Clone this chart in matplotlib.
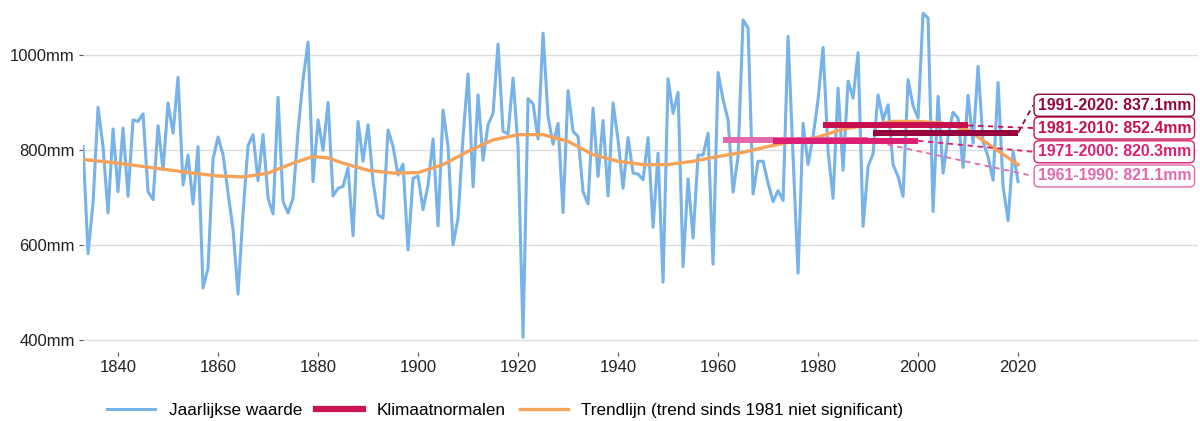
import numpy as np
import matplotlib
matplotlib.use("Agg")
from matplotlib import pyplot as plt
from matplotlib.lines import Line2D

plt.rcParams['font.family'] = ['Liberation Sans', 'DejaVu Sans']

# jaarlijkse neerslag (mm), 1833-2020
years = np.arange(1833, 2021)
precip = [
    808, 582, 689, 891, 808, 668, 845,                     # 1833-1839
    713, 847, 703, 864, 861, 877, 713, 696, 852, 759,      # 1840s
    900, 836, 954, 727, 790, 687, 808, 510, 552, 782,      # 1850s
    828, 791, 710, 633, 497, 668, 810, 833, 736, 833,      # 1860s
    699, 666, 912, 692, 668, 699, 841, 949, 1028, 734,     # 1870s
    864, 800, 901, 704, 720, 724, 763, 620, 861, 777,      # 1880s
    854, 734, 664, 657, 843, 808, 748, 771, 590, 741,      # 1890s
    746, 675, 727, 824, 641, 885, 808, 601, 657, 829,      # 1900s
    961, 723, 917, 779, 854, 878, 1024, 840, 835, 952,     # 1910s
    808, 406, 909, 898, 824, 1047, 871, 813, 857, 669,     # 1920s
    926, 840, 829, 713, 687, 889, 745, 863, 704, 900,      # 1930s
    822, 720, 827, 752, 750, 738, 827, 638, 794, 522,      # 1940s
    951, 878, 922, 555, 740, 615, 790, 790, 836, 560,      # 1950s
    964, 907, 864, 712, 787, 1075, 1058, 708, 777, 777,    # 1960s
    731, 692, 715, 694, 1040, 787, 541, 857, 770, 829,     # 1970s
    907, 1017, 798, 699, 931, 758, 946, 910, 1006, 640,    # 1980s
    766, 793, 917, 864, 896, 770, 745, 703, 949, 894,      # 1990s
    868, 1089, 1079, 671, 914, 752, 829, 880, 868, 764,    # 2000s
    916, 815, 977, 817, 787, 737, 943, 724, 652, 798,      # 2010s
    734,                                                   # 2020
]

trend_years = [1833, 1840, 1845, 1850, 1855, 1860, 1865, 1870, 1875, 1879,
               1882, 1885, 1890, 1895, 1900, 1905, 1910, 1915, 1920, 1925,
               1930, 1935, 1940, 1945, 1950, 1955, 1960, 1965, 1970, 1975,
               1980, 1985, 1990, 1995, 2000, 2005, 2010, 2015, 2020]
trend_vals = [781, 773, 766, 759, 752, 746, 744, 752, 773, 787,
              784, 773, 758, 752, 753, 770, 798, 822, 833, 833,
              819, 791, 777, 770, 770, 777, 787, 796, 808, 819,
              828, 845, 853, 861, 861, 857, 843, 806, 770]

# klimaatnormalen
norm_periods = [(1961, 1990), (1971, 2000), (1981, 2010), (1991, 2020)]
norm_values = [821.1, 820.3, 852.4, 837.1]
norm_colors = ['#e368ad', '#dc1f72', '#c8104e', '#96053e']
norm_label_y = [746, 797, 847, 895]

blue = '#77b2e8'
orange = '#f5a25b'

fig = plt.figure(figsize=(12, 4.21), dpi=100)
ax = fig.add_axes([0.0692, 0.1639, 0.9292, 0.8171])

ax.plot(years, precip, color=blue, lw=2.2, zorder=2)
ax.plot(trend_years, trend_vals, color=orange, lw=2.4, zorder=3)

for (start, end), val, col, ly in zip(norm_periods, norm_values, norm_colors, norm_label_y):
    ax.plot([start, end], [val, val], color=col, lw=4.3, solid_capstyle='butt', zorder=4)
    ax.plot([end, 2023], [val, ly], color=col, lw=1.3, ls=(0, (3, 2.5)), zorder=4,
            clip_on=False)
    ax.text(2023.9, ly, f"{start}-{end}: {val:.1f}mm", color=col, fontsize=11.4,
            fontweight='bold', ha='left', va='center', zorder=6, clip_on=False,
            bbox=dict(boxstyle='round,pad=0.22,rounding_size=0.3', fc='white',
                      ec=col, lw=1.0))

ax.set_xlim(1833, 2056)
ax.set_ylim(375, 1100)
ax.set_xticks(range(1840, 2021, 20))
ax.set_yticks([400, 600, 800, 1000])
ax.set_yticklabels([f"{v}mm" for v in [400, 600, 800, 1000]])
ax.grid(axis='y', color='#dcdcdc', lw=1.0)
ax.set_axisbelow(True)
for s in ax.spines.values():
    s.set_visible(False)
ax.tick_params(axis='both', labelsize=12, colors='#555555', labelcolor='#222222',
               length=3, width=0.8, pad=3)

handles = [
    Line2D([], [], color=blue, lw=2.2),
    Line2D([], [], color='#cc1450', lw=4.5),
    Line2D([], [], color=orange, lw=2.4),
]
labels = ['Jaarlijkse waarde', 'Klimaatnormalen',
          'Trendlijn (trend sinds 1981 niet significant)']
fig.legend(handles, labels, loc='center', bbox_to_anchor=(0.421, 0.024), ncol=3,
           frameon=False, fontsize=12.3, handlelength=2.8, handletextpad=0.8,
           columnspacing=0.8)

fig.savefig('out.png', dpi=100)
